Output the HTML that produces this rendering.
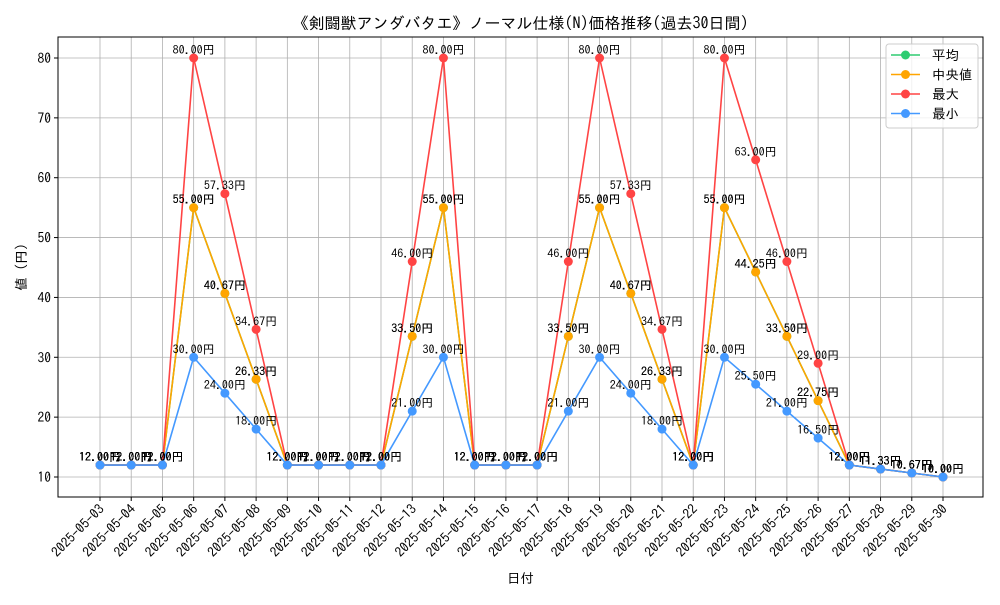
<!DOCTYPE html>
<html><head><meta charset="utf-8"><style>
body{margin:0;background:#fff}
svg text{font-family:"IPAGothic","Liberation Sans","Noto Sans CJK JP",sans-serif}
</style></head><body>
<svg id="c" width="1000" height="600" xmlns="http://www.w3.org/2000/svg"></svg>
<script>
const dates=["2025-05-03","2025-05-04","2025-05-05","2025-05-06","2025-05-07","2025-05-08","2025-05-09","2025-05-10","2025-05-11","2025-05-12","2025-05-13","2025-05-14","2025-05-15","2025-05-16","2025-05-17","2025-05-18","2025-05-19","2025-05-20","2025-05-21","2025-05-22","2025-05-23","2025-05-24","2025-05-25","2025-05-26","2025-05-27","2025-05-28","2025-05-29","2025-05-30"];
const maxVals=[12,12,12,80,57.33,34.67,12,12,12,12,46,80,12,12,12,46,80,57.33,34.67,12,80,63,46,29,12,11.33,10.67,10];
const medVals=[12,12,12,55,40.67,26.33,12,12,12,12,33.5,55,12,12,12,33.5,55,40.67,26.33,12,55,44.25,33.5,22.75,12,11.33,10.67,10];
const avgVals=[12,12,12,55,40.67,26.33,12,12,12,12,33.5,55,12,12,12,33.5,55,40.67,26.33,12,55,44.25,33.5,22.75,12,11.33,10.67,10];
const minVals=[12,12,12,30,24,18,12,12,12,12,21,30,12,12,12,21,30,24,18,12,30,25.5,21,16.5,12,11.33,10.67,10];
const yTicks=[10,20,30,40,50,60,70,80];
const NS="http://www.w3.org/2000/svg",svg=document.getElementById('c');
const L=58,R=983,T=37,B=497;
const x=i=>100+i*(943-100)/(dates.length-1);
const y=v=>477-(v-10)*(477-58)/70;
function mk(tag,at,parent){const e=document.createElementNS(NS,tag);for(const k in at)e.setAttribute(k,at[k]);(parent||svg).appendChild(e);return e;}
const grid=mk('g',{});


dates.forEach((d,i)=>mk('line',{x1:x(i),x2:x(i),y1:T,y2:B,stroke:'#b0b0b0','stroke-width':0.8},grid));
yTicks.forEach(v=>mk('line',{x1:L,x2:R,y1:y(v),y2:y(v),stroke:'#b0b0b0','stroke-width':0.8},grid));
const fr=mk('rect',{x:L,y:T,width:R-L,height:B-T,fill:'none',stroke:'#000','stroke-width':1});


yTicks.forEach(v=>{mk('line',{x1:L-4,x2:L,y1:y(v),y2:y(v),stroke:'#000'});
 const t=mk('text',{x:L-7,y:y(v)+5,'text-anchor':'end','font-size':13.5});t.textContent=v;
 
 });
dates.forEach((d,i)=>{mk('line',{x1:x(i),x2:x(i),y1:B,y2:B+4,stroke:'#000'});
 const t=mk('text',{x:x(i)+5,y:B+13,'text-anchor':'end','font-size':13.5,transform:`rotate(-45 ${x(i)+5} ${B+13})`});t.textContent=d;
 
 });
const series=[['series-average',avgVals,'#2ecc71'],['series-median',medVals,'#ffa500'],['series-max',maxVals,'#ff4444'],['series-min',minVals,'#4499ff']];
series.forEach(([n,vals,c])=>{
 const g=mk('g',{});
 
 
 mk('polyline',{points:vals.map((v,i)=>x(i)+','+y(v)).join(' '),fill:'none',stroke:c,'stroke-width':1.6},g);
 vals.forEach((v,i)=>{const p=mk('circle',{cx:x(i),cy:y(v),r:4.5,fill:c},g);
  
  });
});
series.forEach(([n,vals,c])=>{
 vals.forEach((v,i)=>{const t=mk('text',{x:x(i),y:y(v)-4,'text-anchor':'middle','font-size':12});t.textContent=v.toFixed(2)+'円';
  
  });
});
let t=mk('text',{x:(L+R)/2,y:29,'text-anchor':'middle','font-size':16});t.textContent='《剣闘獣アンダバタエ》ノーマル仕様(N)価格推移(過去30日間)';


t=mk('text',{x:(L+R)/2,y:583,'text-anchor':'middle','font-size':13.5});t.textContent='日付';


t=mk('text',{x:26,y:(T+B)/2,'text-anchor':'middle','font-size':13.5,transform:`rotate(-90 26 ${(T+B)/2})`});t.textContent='値 (円)';


const lg=mk('g',{});


mk('rect',{x:886,y:44,width:92,height:84,rx:3,fill:'#fff','fill-opacity':0.8,stroke:'#ccc'},lg);
const names=['平均','中央値','最大','最小'];
series.forEach(([n,v,c],k)=>{const yy=55+k*19.5;
 const e=mk('g',{},lg);
 
 
 mk('line',{x1:891,x2:920,y1:yy,y2:yy,stroke:c,'stroke-width':1.6},e);
 mk('circle',{cx:905.5,cy:yy,r:4.5,fill:c},e);
 const tt=mk('text',{x:932,y:yy+5,'font-size':13.5},e);tt.textContent=names[k];});
</script>
</body></html>
